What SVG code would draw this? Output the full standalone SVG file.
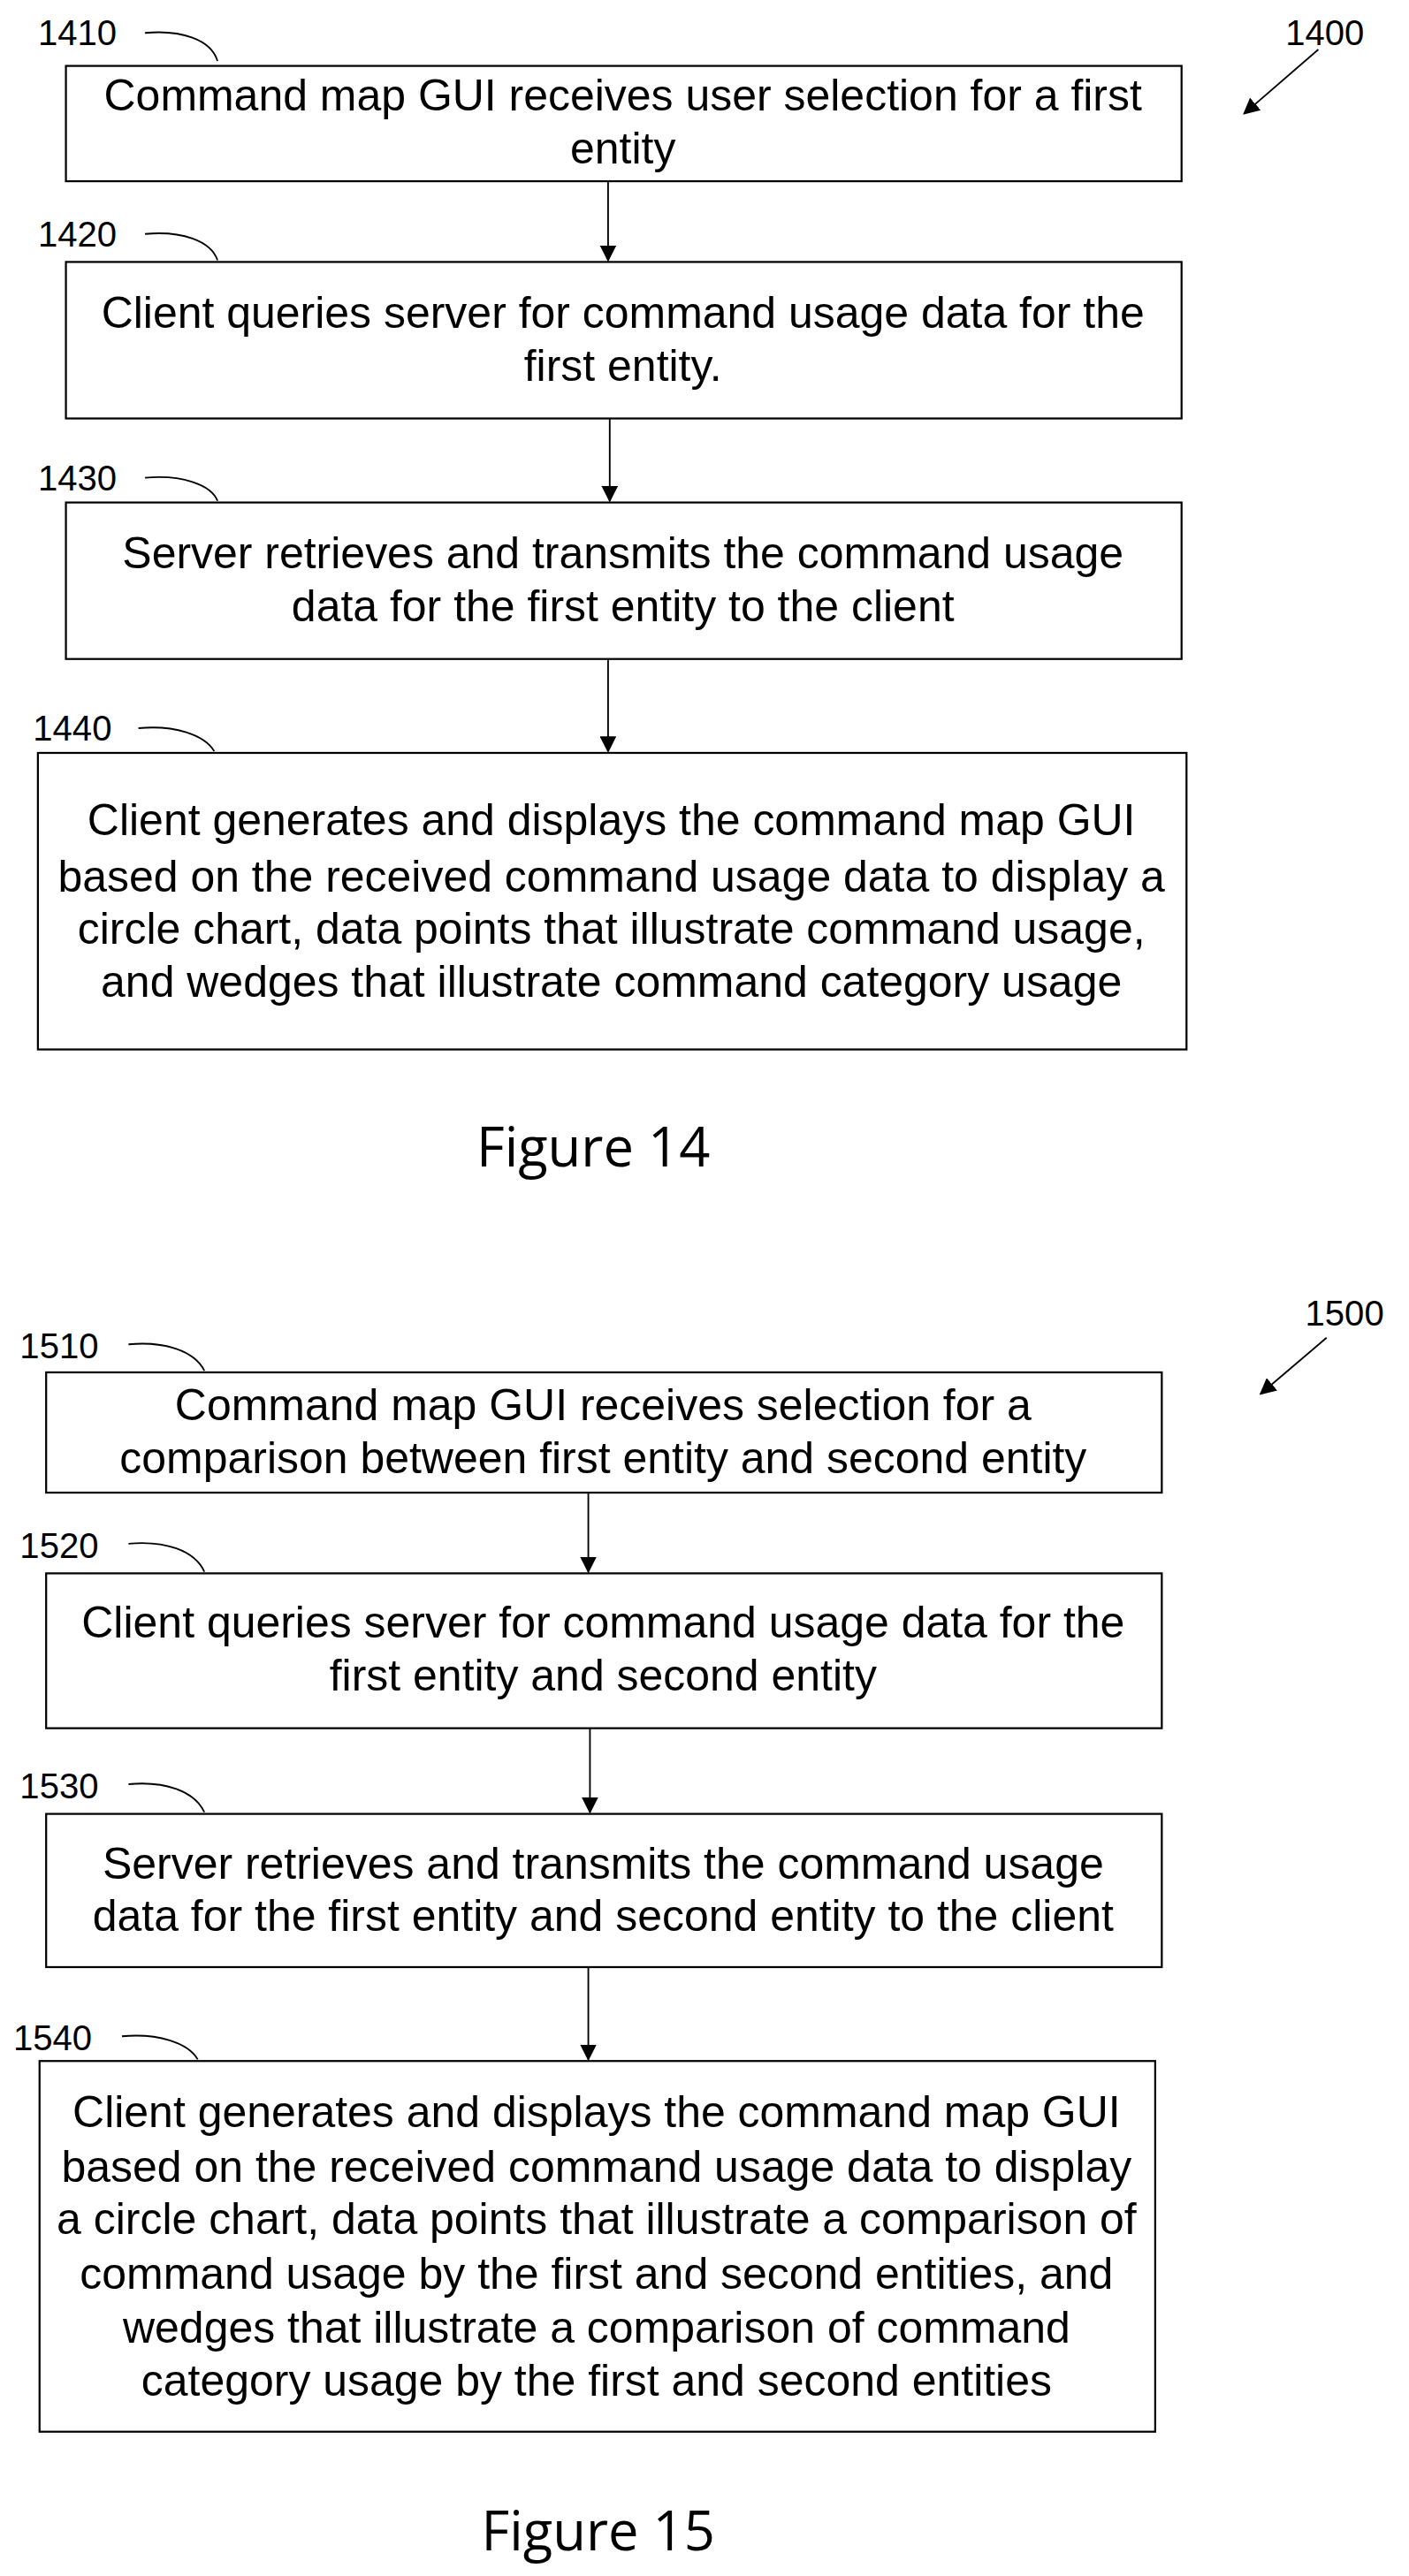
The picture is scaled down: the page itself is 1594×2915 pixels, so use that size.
<svg xmlns="http://www.w3.org/2000/svg" width="1594" height="2915" viewBox="0 0 1594 2915">
<defs>
<marker id="ah" markerWidth="10" markerHeight="10" refX="9" refY="5" orient="auto" markerUnits="userSpaceOnUse"><path d="M0,0 L10,5 L0,10 z" fill="#000"/></marker>
<style>
.b{fill:#fff;stroke:#000;stroke-width:1.2}
.t{font-family:"Liberation Sans",Arial,sans-serif;font-size:26.8px;text-anchor:middle;dominant-baseline:central;fill:#000}
.l{font-family:"Liberation Sans",Arial,sans-serif;font-size:21.5px;fill:#000;dominant-baseline:central}
.f{font-family:"Open Sans","Liberation Sans",sans-serif;font-size:33px;text-anchor:middle;dominant-baseline:central;fill:#000}
.c{fill:none;stroke:#000;stroke-width:1}
</style>
</defs>
<rect width="1594" height="2915" fill="#fff"/>
<g transform="scale(1.8643)">
<g id="n1410"><text class="l" x="23" y="20">1410</text><path class="c" d="M88,20 C110,18 128,24 132,37"/><rect class="b" x="40" y="40" width="677" height="70"/><text class="t" x="378" y="58">Command map GUI receives user selection for a first</text><text class="t" x="378" y="90">entity</text></g>
<g id="n1420"><text class="l" x="23" y="142">1420</text><path class="c" d="M88,142 C110,140 128,146 132,158"/><rect class="b" x="40" y="159" width="677" height="95"/><text class="t" x="378" y="190">Client queries server for command usage data for the</text><text class="t" x="378" y="222">first entity.</text></g>
<g id="n1430"><text class="l" x="23" y="290">1430</text><path class="c" d="M88,290 C110,288 128,294 132,304"/><rect class="b" x="40" y="305" width="677" height="95"/><text class="t" x="378" y="336">Server retrieves and transmits the command usage</text><text class="t" x="378" y="368">data for the first entity to the client</text></g>
<g id="n1440"><text class="l" x="20" y="442">1440</text><path class="c" d="M84,442 C106,440 124,446 130,456"/><rect class="b" x="23" y="457" width="697" height="180"/><text class="t" x="371" y="498">Client generates and displays the command map GUI</text><text class="t" x="371" y="532">based on the received command usage data to display a</text><text class="t" x="371" y="564">circle chart, data points that illustrate command usage,</text><text class="t" x="371" y="596">and wedges that illustrate command category usage</text></g>
<text class="f" x="360" y="695">Figure 14</text>
<g id="r1400"><text class="l" x="780" y="20">1400</text><line class="c" x1="800" y1="30" x2="755" y2="69" marker-end="url(#ah)"/></g>

<g id="n1510"><text class="l" x="12" y="817">1510</text><path class="c" d="M78,816 C100,814 118,820 124,832"/><rect class="b" x="28" y="833" width="677" height="73"/><text class="t" x="366" y="853">Command map GUI receives selection for a</text><text class="t" x="366" y="885">comparison between first entity and second entity</text></g>
<g id="n1520"><text class="l" x="12" y="938">1520</text><path class="c" d="M78,937 C100,935 118,941 124,954"/><rect class="b" x="28" y="955" width="677" height="94"/><text class="t" x="366" y="985">Client queries server for command usage data for the</text><text class="t" x="366" y="1017">first entity and second entity</text></g>
<g id="n1530"><text class="l" x="12" y="1084">1530</text><path class="c" d="M78,1083 C100,1081 118,1087 124,1100"/><rect class="b" x="28" y="1101" width="677" height="93"/><text class="t" x="366" y="1131">Server retrieves and transmits the command usage</text><text class="t" x="366" y="1163">data for the first entity and second entity to the client</text></g>
<g id="n1540"><text class="l" x="8" y="1237">1540</text><path class="c" d="M74,1236 C96,1234 114,1240 120,1250"/><rect class="b" x="24" y="1251" width="677" height="225"/><text class="t" x="362" y="1282">Client generates and displays the command map GUI</text><text class="t" x="362" y="1315">based on the received command usage data to display</text><text class="t" x="362" y="1347">a circle chart, data points that illustrate a comparison of</text><text class="t" x="362" y="1380">command usage by the first and second entities, and</text><text class="t" x="362" y="1413">wedges that illustrate a comparison of command</text><text class="t" x="362" y="1445">category usage by the first and second entities</text></g>
<text class="f" x="363" y="1535">Figure 15</text>
<g id="r1500"><text class="l" x="792" y="797">1500</text><line class="c" x1="805" y1="812" x2="765" y2="846" marker-end="url(#ah)"/></g>
</g>
<g id="connectors" transform="scale(1.8643)">
<line class="c" x1="369" y1="110" x2="369" y2="158" marker-end="url(#ah)"/>
<line class="c" x1="370" y1="254" x2="370" y2="304" marker-end="url(#ah)"/>
<line class="c" x1="369" y1="400" x2="369" y2="456" marker-end="url(#ah)"/>
<line class="c" x1="357" y1="906" x2="357" y2="954" marker-end="url(#ah)"/>
<line class="c" x1="358" y1="1049" x2="358" y2="1100" marker-end="url(#ah)"/>
<line class="c" x1="357" y1="1194" x2="357" y2="1250" marker-end="url(#ah)"/>
</g>
</svg>
